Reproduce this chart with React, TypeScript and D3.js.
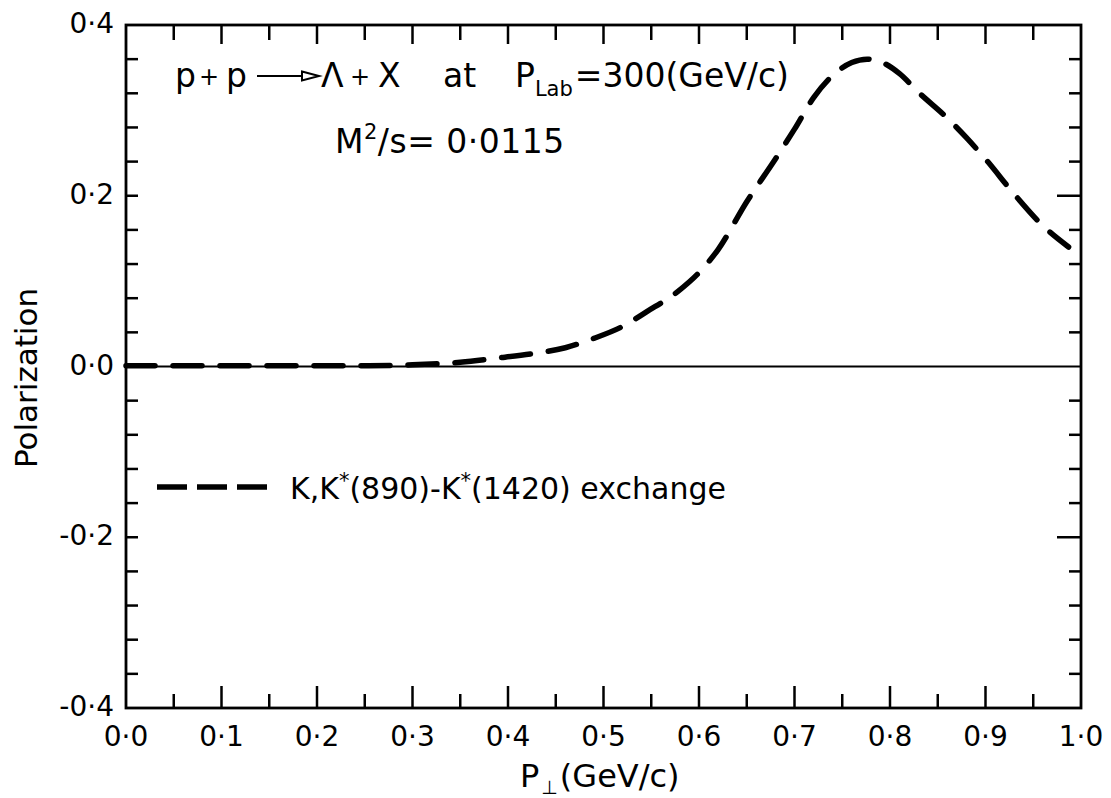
import React from "react";
import * as d3 from "d3";

// ---- data ----
const pT: number[] = [0, 0.05, 0.1, 0.15, 0.2, 0.25, 0.3, 0.35, 0.39, 0.425, 0.46, 0.49, 0.52, 0.545, 0.578, 0.6, 0.62, 0.65, 0.68, 0.7, 0.72, 0.74, 0.76, 0.776, 0.79, 0.81, 0.83, 0.86, 0.88, 0.9, 0.93, 0.96, 0.987];
const polarization: number[] = [0.001, 0.001, 0.001, 0.001, 0.001, 0.001, 0.002, 0.005, 0.01, 0.015, 0.022, 0.033, 0.047, 0.064, 0.088, 0.11, 0.137, 0.193, 0.243, 0.278, 0.315, 0.341, 0.356, 0.36, 0.357, 0.343, 0.321, 0.291, 0.268, 0.243, 0.202, 0.165, 0.14];
const xTickValues: number[] = [0, 0.1, 0.2, 0.3, 0.4, 0.5, 0.6, 0.7, 0.8, 0.9, 1.0];
const xTickLabels: string[] = ["0·0", "0·1", "0·2", "0·3", "0·4", "0·5", "0·6", "0·7", "0·8", "0·9", "1·0"];
const yTickValues: number[] = [0.4, 0.2, 0, -0.2, -0.4];
const yTickLabels: string[] = ["0·4", "0·2", "0·0", "-0·2", "-0·4"];
const xMinorStep = 0.05;
const yMinorStep = 0.04;

const FONT = "'DejaVu Sans', 'Open Sans', sans-serif";

export default function App() {
  const W = 1111, H = 798;
  const x = d3.scaleLinear().domain([0, 1]).range([126, 1081]);
  const y = d3.scaleLinear().domain([-0.4, 0.4]).range([708, 25]);

  const pts = pT.map((v, i) => [v, polarization[i]] as [number, number]);
  const line = d3.line<[number, number]>()
    .x(d => x(d[0]))
    .y(d => y(d[1]))
    .curve(d3.curveMonotoneX);

  const xMinor = d3.range(0, 1.0001, xMinorStep);
  const yMinor = d3.range(-0.4, 0.4001, yMinorStep);
  const isMajorX = (v: number) => Math.abs(Math.round(v * 10) - v * 10) < 1e-6;
  const isMajorYRight = (v: number) => Math.abs(Math.abs(v) - 0.2) < 1e-6;

  const x0 = x(0), x1 = x(1), yTop = y(0.4), yBot = y(-0.4);

  return (
    <svg width={W} height={H} style={{ position: "absolute", left: 0, top: 0, background: "#fff" }} fontFamily={FONT}>
      <rect x={0} y={0} width={W} height={H} fill="#fff" />
      {/* frame */}
      <rect x={x0} y={yTop} width={x1 - x0} height={yBot - yTop} fill="none" stroke="#000" strokeWidth={2.8} />
      {/* zero line */}
      <line x1={x0} x2={x1} y1={y(0)} y2={y(0)} stroke="#000" strokeWidth={2} />
      {/* bottom & top ticks */}
      {xMinor.map((v, i) => {
        if (v <= 1e-6 || v >= 1 - 1e-6) return null;
        const maj = isMajorX(v);
        return (
          <g key={"xt" + i}>
            <line x1={x(v)} x2={x(v)} y1={yBot} y2={yBot - (maj ? 22 : 14)} stroke="#000" strokeWidth={2.5} />
            <line x1={x(v)} x2={x(v)} y1={yTop} y2={yTop + (maj ? 19 : 15)} stroke="#000" strokeWidth={2.5} />
          </g>
        );
      })}
      {/* left & right ticks */}
      {yMinor.map((v, i) => {
        if (Math.abs(v) >= 0.4 - 1e-6 || Math.abs(v) < 1e-6) return null;
        return (
          <g key={"yt" + i}>
            <line x1={x0} x2={x0 + 12} y1={y(v)} y2={y(v)} stroke="#000" strokeWidth={2.5} />
            <line x1={x1} x2={x1 - (isMajorYRight(v) ? 24 : 12)} y1={y(v)} y2={y(v)} stroke="#000" strokeWidth={2.5} />
          </g>
        );
      })}
      {/* x tick labels */}
      {xTickValues.map((v, i) => (
        <text key={"xl" + i} x={x(v)} y={yBot + 38} textAnchor="middle" fontSize={28} fill="#000">{xTickLabels[i]}</text>
      ))}
      {/* y tick labels */}
      {yTickValues.map((v, i) => (
        <text key={"yl" + i} x={114} y={y(v) + 8} textAnchor="end" fontSize={28} fill="#000">{yTickLabels[i]}</text>
      ))}
      {/* axis titles */}
      <text x={0} y={0} transform={`translate(37,378) rotate(-90)`} textAnchor="middle" fontSize={31} fill="#000">Polarization</text>
      <text x={520} y={787} fontSize={32} fill="#000">
        P<tspan fontSize={19} dy={7} dx={2}>⊥</tspan><tspan dy={-7} dx={2}>(GeV/c)</tspan>
      </text>
      {/* curve */}
      <path d={line(pts) || ""} fill="none" stroke="#000" strokeWidth={5.5} strokeDasharray="29 18" strokeLinecap="round" />
      {/* annotation */}
      <g fontSize={33} fill="#000">
        <text x={175} y={87}>p</text>
        <text x={199} y={85} fontSize={24}>+</text>
        <text x={226} y={87}>p</text>
        <line x1={257} x2={307} y1={76} y2={76} stroke="#000" strokeWidth={2.2} />
        <path d="M 302 71.5 L 319 76 L 302 80.5 Z" fill="#fff" stroke="#000" strokeWidth={2} />
        <text x={321} y={87}>Λ</text>
        <text x={350} y={85} fontSize={24}>+</text>
        <text x={378} y={87}>X</text>
        <text x={443} y={87}>at</text>
        <text x={515} y={87}>P<tspan fontSize={21} dy={9}>Lab</tspan><tspan dy={-9} dx={2}>=300(GeV/c)</tspan></text>
        <text x={335} y={153} letterSpacing={0.5}>M<tspan fontSize={21} dy={-14}>2</tspan><tspan dy={14}>/s= 0·0115</tspan></text>
      </g>
      {/* legend */}
      <line x1={157} x2={268} y1={487} y2={487} stroke="#000" strokeWidth={5.5} strokeDasharray="30 10" />
      <text x={290} y={499} fontSize={30} fill="#000">
        K,K<tspan fontSize={21} dy={-11}>*</tspan><tspan dy={11}>(890)-K</tspan><tspan fontSize={21} dy={-11}>*</tspan><tspan dy={11}>(1420) exchange</tspan>
      </text>
    </svg>
  );
}
